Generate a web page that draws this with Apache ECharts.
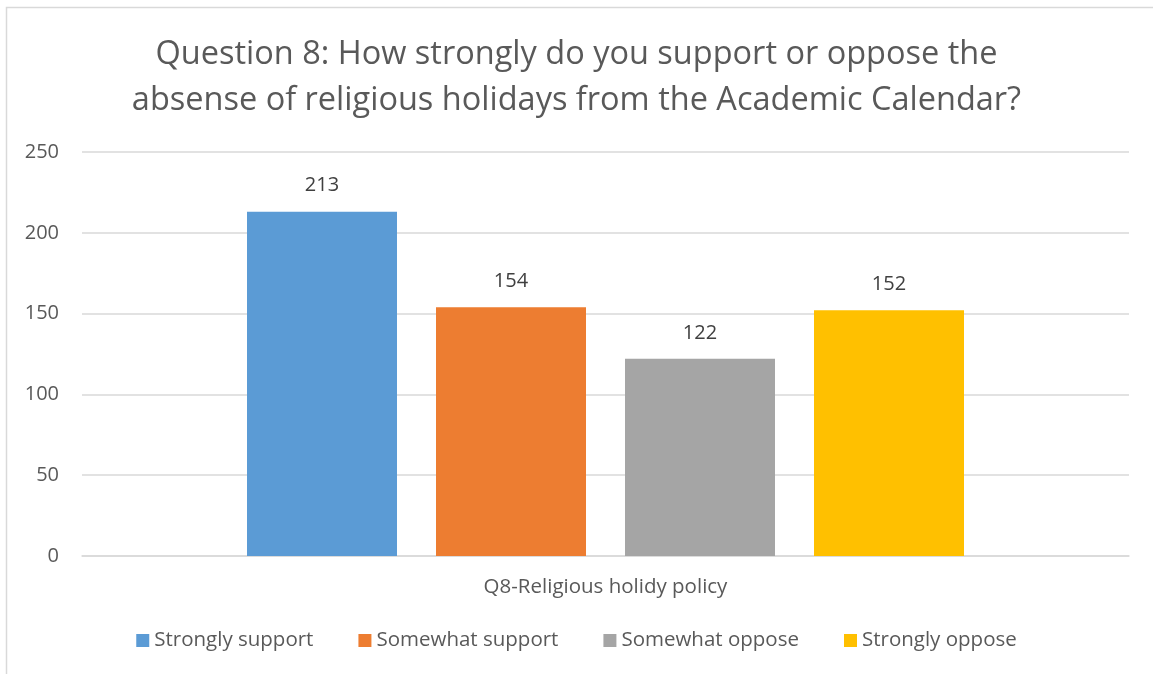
<!DOCTYPE html>
<html><head><meta charset="utf-8">
<script src="https://cdn.jsdelivr.net/npm/echarts@6/dist/echarts.min.js"></script>
<style>html,body{margin:0;padding:0;background:#fff}#c{width:1153px;height:674px}</style>
</head><body><div id="c"></div>
<script>
const categories = ['Q8-Religious holidy policy'];
const seriesNames = ['Strongly support', 'Somewhat support', 'Somewhat oppose', 'Strongly oppose'];
const seriesValues = [[213], [154], [122], [152]];
const colors = ['#5b9bd5', '#ed7d31', '#a5a5a5', '#ffc000'];
const yTicks = {min: 0, max: 250, interval: 50};
const titleText = 'Question 8: How strongly do you support or oppose the\nabsense of religious holidays from the Academic Calendar?';

const font = '"Open Sans", "Noto Sans", sans-serif';
const chart = echarts.init(document.getElementById('c'));
chart.setOption({
  animation: false,
  color: colors,
  graphic: [{type: 'rect', shape: {x: 6.5, y: 7.5, width: 1200, height: 700}, style: {fill: 'none', stroke: '#d9d9d9', lineWidth: 1.5}, silent: true}],
  title: {text: titleText, left: 'center', top: 27,
    textStyle: {fontFamily: font, fontSize: 32.5, fontWeight: 'normal', color: '#595959', lineHeight: 46}},
  grid: {left: 82, right: 24, top: 152, bottom: 118, containLabel: false},
  legend: {bottom: 18, left: 'center', itemWidth: 13, itemHeight: 13, itemGap: 45, icon: 'rect',
    textStyle: {fontFamily: font, fontSize: 20.5, color: '#595959'}},
  xAxis: {type: 'category', data: categories,
    axisLine: {lineStyle: {color: '#d9d9d9', width: 1.5}}, axisTick: {show: false},
    axisLabel: {fontFamily: font, fontSize: 20.5, color: '#595959', margin: 21}},
  yAxis: {type: 'value', min: yTicks.min, max: yTicks.max, interval: yTicks.interval,
    axisLine: {show: false}, axisTick: {show: false},
    splitLine: {lineStyle: {color: '#d9d9d9', width: 1.5}},
    axisLabel: {fontFamily: font, fontSize: 20, color: '#595959', margin: 23}},
  series: seriesNames.map((n, i) => ({
    name: n, type: 'bar', data: seriesValues[i], barWidth: 150, barGap: '26%',
    label: {show: true, position: 'top', distance: 16, fontFamily: font, fontSize: 20, color: '#404040'}
  }))
});
</script></body></html>
